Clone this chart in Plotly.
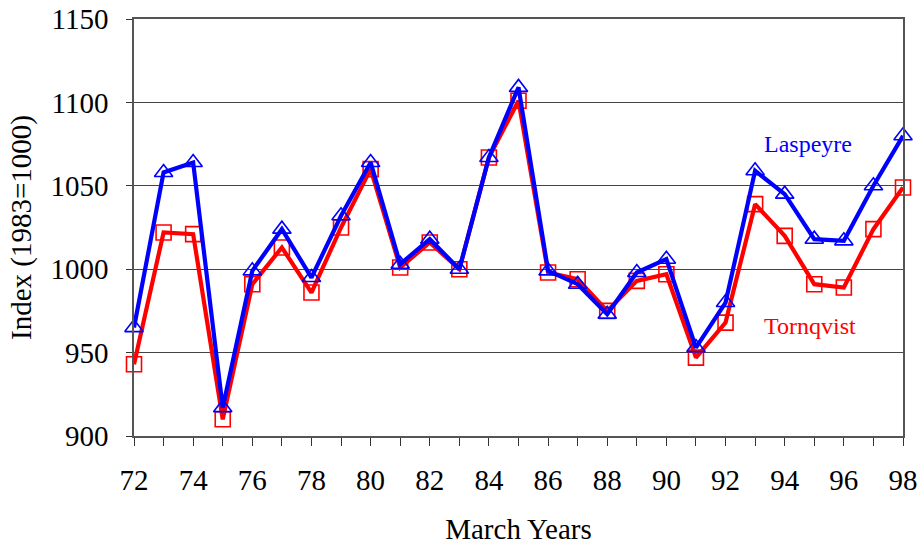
import plotly.graph_objects as go

# March years (two-digit) and index values, base 1983 = 1000
years = list(range(72, 99))
laspeyre = [965, 1058, 1064, 917, 999, 1024, 995, 1032, 1064, 1003,
            1018, 1000, 1067, 1109, 999, 991, 973, 998, 1006, 953,
            980, 1059, 1045, 1018, 1017, 1050, 1080]
tornqvist = [943, 1022, 1021, 910, 991, 1013, 986, 1025, 1060, 1001,
             1016, 1000, 1067, 1101, 998, 994, 975, 993, 997, 947,
             968, 1039, 1020, 991, 989, 1024, 1049]
x_tick_vals = list(range(72, 99, 2))
x_tick_text = [str(v) for v in x_tick_vals]
y_tick_vals = [900, 950, 1000, 1050, 1100, 1150]

FONT = "Liberation Serif, Times New Roman, serif"
BLUE = "#0000ff"
RED = "#ff0000"

fig = go.Figure()
fig.add_trace(go.Scatter(
    x=years, y=tornqvist, mode="lines+markers", name="Tornqvist",
    line=dict(color=RED, width=4.2),
    marker=dict(symbol="square-open", size=15, color=RED, line=dict(width=1.6)),
    cliponaxis=False,
))
fig.add_trace(go.Scatter(
    x=years, y=laspeyre, mode="lines+markers", name="Laspeyre",
    line=dict(color=BLUE, width=4.2),
    marker=dict(symbol="triangle-up-open", size=16, color=BLUE, line=dict(width=1.6)),
    cliponaxis=False,
))

fig.add_annotation(x=94.8, y=1075, text="Laspeyre", showarrow=False,
                   font=dict(family=FONT, size=24, color=BLUE))
fig.add_annotation(x=94.85, y=966, text="Tornqvist", showarrow=False,
                   font=dict(family=FONT, size=24, color=RED))

fig.update_layout(
    width=919, height=545,
    margin=dict(l=134, r=16, t=19, b=109),
    paper_bgcolor="white", plot_bgcolor="white",
    showlegend=False,
    font=dict(family=FONT, size=29, color="black"),
)
fig.update_xaxes(
    range=[72, 98], tickvals=x_tick_vals, ticktext=x_tick_text,
    automargin=False,
    ticks="outside", ticklen=8, tickcolor="#333", tickwidth=1,
    minor=dict(dtick=1, tick0=72, ticks="outside", ticklen=8, tickcolor="#333", tickwidth=1),
    showgrid=False, zeroline=False,
    showline=True, linecolor="#555", linewidth=1.5, mirror=True,
    ticklabelstandoff=9,
    tickfont=dict(family=FONT, size=29),
    title=dict(text="March Years", font=dict(family=FONT, size=29), standoff=27),
)
fig.update_yaxes(
    range=[900, 1150], tickvals=y_tick_vals,
    automargin=False,
    ticks="outside", ticklen=6, tickcolor="#333", tickwidth=1,
    showgrid=True, gridcolor="#444", gridwidth=1, zeroline=False,
    showline=True, linecolor="#555", linewidth=1.5, mirror=True,
    ticklabelstandoff=12,
    tickfont=dict(family=FONT, size=29),
    title=dict(text="Index (1983=1000)", font=dict(family=FONT, size=29), standoff=10),
)

fig.write_html("out.html")
